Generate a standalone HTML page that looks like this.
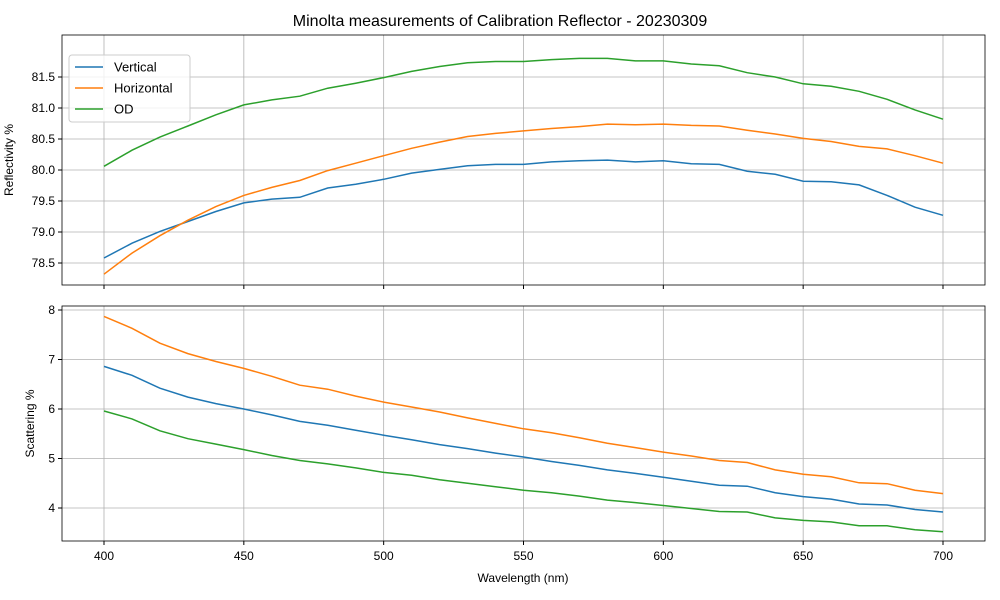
<!DOCTYPE html>
<html><head><meta charset="utf-8"><style>body{margin:0;background:#fff}svg{display:block}text{font-family:"Liberation Sans","DejaVu Sans",sans-serif;fill:#000}</style></head>
<body><svg id="s" width="1000" height="600" xmlns="http://www.w3.org/2000/svg"></svg>
<script>
const s=document.getElementById('s');let h='';
const X=v=>104+(v-400)*839/300;
const T=v=>77+(81.5-v)*62, B=v=>310+(8-v)*49.5;
h+='<text x="500" y="26" font-size="16" text-anchor="middle">Minolta measurements of Calibration Reflector - 20230309</text>';
function axes(y0,y1,ticks,Y,lab,showX){
 for(let w=400;w<=700;w+=50){const x=X(w);h+=`<line x1="${x}" x2="${x}" y1="${y0}" y2="${y1}" stroke="#b0b0b0" stroke-width="0.8"/><line x1="${x}" x2="${x}" y1="${y1}" y2="${y1+4}" stroke="#000"/>`;
  if(showX)h+=`<text x="${x}" y="${y1+19}" font-size="12" text-anchor="middle">${w}</text>`;}
 ticks.forEach(t=>{const y=Y(t);h+=`<line x1="62" x2="985" y1="${y}" y2="${y}" stroke="#b0b0b0" stroke-width="0.8"/><line x1="58" x2="62" y1="${y}" y2="${y}" stroke="#000"/><text x="55" y="${y+4}" font-size="12" text-anchor="end">${t%1==0&&t<10?t:t.toFixed(1)}</text>`;});
 h+=`<text transform="translate(${lab[1]},${(y0+y1)/2}) rotate(-90)" font-size="12" text-anchor="middle">${lab[0]}</text>`;
}
axes(35,285,[78.5,79,79.5,80,80.5,81,81.5],T,['Reflectivity %',13],false);
axes(306,541,[4,5,6,7,8],B,['Scattering %',34],true);
h+='<text x="523" y="582" font-size="12" text-anchor="middle">Wavelength (nm)</text>';
const D={t:[[78.58,78.82,79.01,79.17,79.33,79.47,79.53,79.56,79.71,79.77,79.85,79.95,80.01,80.07,80.09,80.09,80.13,80.15,80.16,80.13,80.15,80.10,80.09,79.98,79.93,79.82,79.81,79.76,79.59,79.40,79.27],
[78.32,78.66,78.94,79.19,79.41,79.59,79.72,79.83,79.99,80.11,80.23,80.35,80.45,80.54,80.59,80.63,80.67,80.70,80.74,80.73,80.74,80.72,80.71,80.64,80.58,80.51,80.46,80.38,80.34,80.23,80.11],
[80.06,80.32,80.53,80.71,80.89,81.05,81.13,81.19,81.32,81.40,81.49,81.59,81.67,81.73,81.75,81.75,81.78,81.80,81.80,81.76,81.76,81.71,81.68,81.57,81.50,81.39,81.35,81.27,81.14,80.97,80.82]],
b:[[6.86,6.68,6.42,6.24,6.11,6.00,5.88,5.75,5.67,5.57,5.47,5.38,5.28,5.20,5.11,5.03,4.94,4.86,4.77,4.70,4.62,4.54,4.46,4.44,4.31,4.23,4.18,4.08,4.06,3.97,3.92],
[7.87,7.63,7.33,7.12,6.96,6.82,6.66,6.48,6.40,6.26,6.14,6.04,5.94,5.82,5.71,5.60,5.52,5.42,5.31,5.22,5.13,5.05,4.96,4.92,4.77,4.68,4.63,4.51,4.49,4.36,4.29],
[5.96,5.80,5.56,5.40,5.29,5.18,5.06,4.96,4.89,4.81,4.72,4.66,4.57,4.50,4.43,4.36,4.31,4.24,4.16,4.11,4.05,3.99,3.93,3.92,3.80,3.75,3.72,3.64,3.64,3.56,3.52]]};
const C=['#1f77b4','#ff7f0e','#2ca02c'];
[['t',T],['b',B]].forEach(([k,Y])=>D[k].forEach((a,i)=>{h+=`<polyline fill="none" stroke="${C[i]}" stroke-width="1.5" points="${a.map((v,j)=>X(400+10*j).toFixed(1)+','+Y(v).toFixed(1)).join(' ')}"/>`;}));
h+='<rect x="62" y="35" width="923" height="250" fill="none" stroke="#000" stroke-width="0.8"/><rect x="62" y="306" width="923" height="235" fill="none" stroke="#000" stroke-width="0.8"/>';
h+='<rect x="69" y="55" width="121" height="67" rx="3" fill="#fff" fill-opacity="0.8" stroke="#ccc"/>';
['Vertical','Horizontal','OD'].forEach((n,i)=>{const y=67+i*21;h+=`<line x1="75" x2="103" y1="${y}" y2="${y}" stroke="${C[i]}" stroke-width="1.5"/><text x="114" y="${y+4.5}" font-size="13">${n}</text>`;});
s.innerHTML=h;
</script></body></html>
